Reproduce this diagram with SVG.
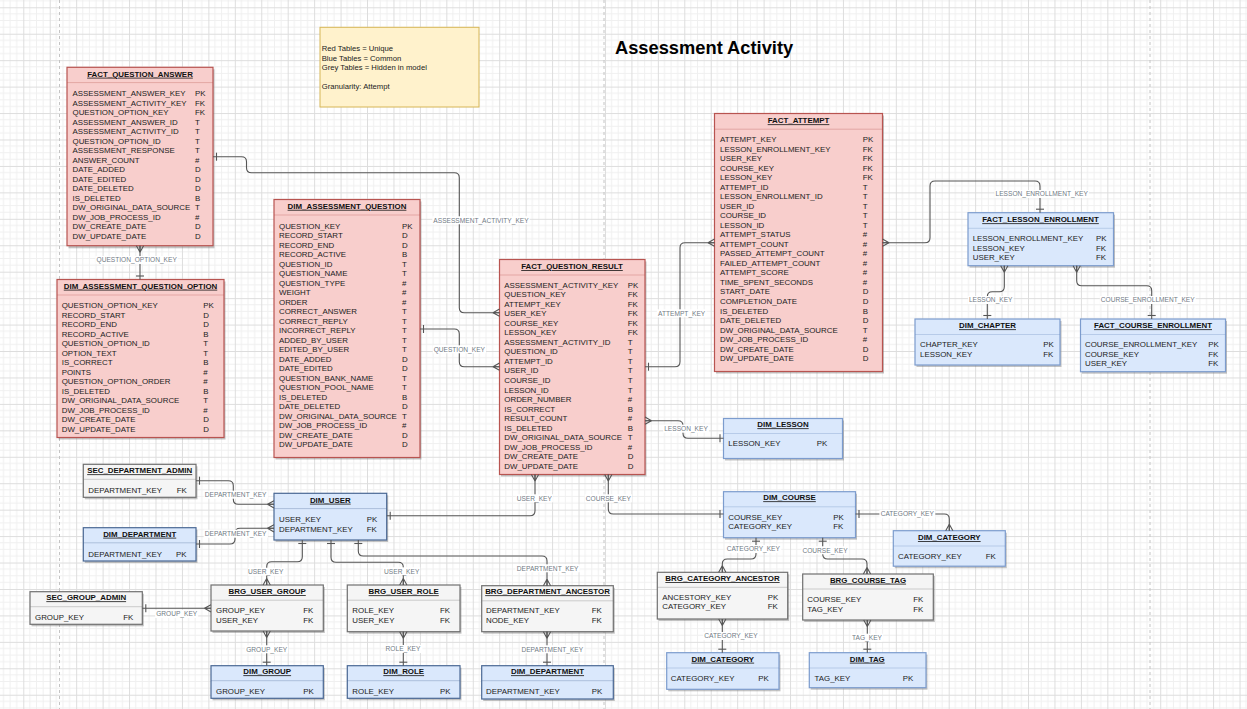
<svg xmlns="http://www.w3.org/2000/svg" width="1247" height="709" viewBox="0 0 1247 709">
<defs>
<pattern id="grid" x="23.3" y="7.3" width="26.44" height="26.44" patternUnits="userSpaceOnUse">
<path d="M6.61 0V26.44M13.22 0V26.44M19.83 0V26.44M0 6.61H26.44M0 13.22H26.44M0 19.83H26.44" stroke="#f0f0f0" stroke-width="1" fill="none"/>
<path d="M0.5 0V26.44M0 0.5H26.44" stroke="#dddddd" stroke-width="1" fill="none"/>
</pattern>
<marker id="many" markerUnits="userSpaceOnUse" orient="auto-start-reverse" refX="0" refY="0" markerWidth="14" markerHeight="14" style="overflow:visible">
<path d="M-6.5,0 L0,-3.6 M-6.5,0 L0,3.6 M-6.5,0 L0,0" fill="none" stroke="#555" stroke-width="1.1"/>
</marker>
<marker id="one" markerUnits="userSpaceOnUse" orient="auto-start-reverse" refX="0" refY="0" markerWidth="14" markerHeight="14" style="overflow:visible">
<path d="M-3.5,-4 V4" fill="none" stroke="#555" stroke-width="1.1"/>
</marker>
<style>
.sh{fill:#7a7a7a;fill-opacity:.45}
.red{fill:#f8cecc;stroke:#b85450;stroke-width:1.2}
.blu{fill:#dae8fc;stroke:#7c9cce;stroke-width:1.2}
.bld{fill:#dae8fc;stroke:#4a6894;stroke-width:1.2}
.gry{fill:#f5f5f5;stroke:#707070;stroke-width:1.2}
.sp{fill:none;stroke-width:.8;stroke-opacity:.4}
.t{font-family:"Liberation Sans",Arial,sans-serif;font-size:7.9px;font-weight:bold;text-decoration:underline;fill:#111;text-anchor:middle}
.r{font-family:"Liberation Sans",Arial,sans-serif;font-size:7.9px;fill:#222}
.l{font-family:"Liberation Sans",Arial,sans-serif;font-size:6.6px;fill:#717a84;text-anchor:middle}
.lb{fill:#ffffff}
.c path{fill:none;stroke:#555;stroke-width:1.1}
.c path.mo{marker-start:url(#many);marker-end:url(#one)}
.c path.om{marker-start:url(#one);marker-end:url(#many)}
.leg{font-family:"Liberation Sans",Arial,sans-serif;font-size:7.7px;fill:#222}
.ttl{font-family:"Liberation Sans",Arial,sans-serif;font-size:18.3px;font-weight:bold;fill:#000}
</style>
</defs>
<rect width="1247" height="709" fill="#ffffff"/>
<rect width="1247" height="709" fill="url(#grid)"/>
<g stroke="#c4c4c4" stroke-width="1" stroke-dasharray="3 3">
<path d="M59.5 0V709M604 0V709M1150 0V709"/>
</g>

<text class="ttl" x="615" y="54">Assessment Activity</text>

<g id="legend">
<rect x="320" y="27.3" width="159" height="79.7" fill="#fff2cc" stroke="#d6b656" stroke-width="1"/>
<text class="leg" x="321.7" y="51">Red Tables = Unique</text>
<text class="leg" x="321.7" y="60.6">Blue Tables = Common</text>
<text class="leg" x="321.7" y="70.2">Grey Tables = Hidden in model</text>
<text class="leg" x="321.7" y="89">Granularity: Attempt</text>
</g>

<g id="fact_question_answer">
<rect class="sh" x="68.5" y="69.3" width="146" height="179"/>
<rect class="red" x="67" y="67.3" width="146" height="178.4"/>
<path class="sp" stroke="#b85450" d="M67 82.6H213"/>
<text class="t" x="140" y="76.7">FACT_QUESTION_ANSWER</text>
<text class="r" y="96"><tspan x="72.5">ASSESSMENT_ANSWER_KEY</tspan><tspan x="72.5" dy="9.5">ASSESSMENT_ACTIVITY_KEY</tspan><tspan x="72.5" dy="9.5">QUESTION_OPTION_KEY</tspan><tspan x="72.5" dy="9.5">ASSESSMENT_ANSWER_ID</tspan><tspan x="72.5" dy="9.5">ASSESSMENT_ACTIVITY_ID</tspan><tspan x="72.5" dy="9.5">QUESTION_OPTION_ID</tspan><tspan x="72.5" dy="9.5">ASSESSMENT_RESPONSE</tspan><tspan x="72.5" dy="9.5">ANSWER_COUNT</tspan><tspan x="72.5" dy="9.5">DATE_ADDED</tspan><tspan x="72.5" dy="9.5">DATE_EDITED</tspan><tspan x="72.5" dy="9.5">DATE_DELETED</tspan><tspan x="72.5" dy="9.5">IS_DELETED</tspan><tspan x="72.5" dy="9.5">DW_ORIGINAL_DATA_SOURCE</tspan><tspan x="72.5" dy="9.5">DW_JOB_PROCESS_ID</tspan><tspan x="72.5" dy="9.5">DW_CREATE_DATE</tspan><tspan x="72.5" dy="9.5">DW_UPDATE_DATE</tspan></text>
<text class="r" y="96"><tspan x="195">PK</tspan><tspan x="195" dy="9.5">FK</tspan><tspan x="195" dy="9.5">FK</tspan><tspan x="195" dy="9.5">T</tspan><tspan x="195" dy="9.5">T</tspan><tspan x="195" dy="9.5">T</tspan><tspan x="195" dy="9.5">T</tspan><tspan x="195" dy="9.5">#</tspan><tspan x="195" dy="9.5">D</tspan><tspan x="195" dy="9.5">D</tspan><tspan x="195" dy="9.5">D</tspan><tspan x="195" dy="9.5">B</tspan><tspan x="195" dy="9.5">T</tspan><tspan x="195" dy="9.5">#</tspan><tspan x="195" dy="9.5">D</tspan><tspan x="195" dy="9.5">D</tspan></text>
</g>

<g id="dim_assessment_question_option">
<rect class="sh" x="58.5" y="281.5" width="167" height="158"/>
<rect class="red" x="57" y="279.5" width="167" height="158"/>
<path class="sp" stroke="#b85450" d="M57 295H224"/>
<text class="t" x="140.5" y="288.7">DIM_ASSESSMENT_QUESTION_OPTION</text>
<text class="r" y="308"><tspan x="61.7">QUESTION_OPTION_KEY</tspan><tspan x="61.7" dy="9.5">RECORD_START</tspan><tspan x="61.7" dy="9.5">RECORD_END</tspan><tspan x="61.7" dy="9.5">RECORD_ACTIVE</tspan><tspan x="61.7" dy="9.5">QUESTION_OPTION_ID</tspan><tspan x="61.7" dy="9.5">OPTION_TEXT</tspan><tspan x="61.7" dy="9.5">IS_CORRECT</tspan><tspan x="61.7" dy="9.5">POINTS</tspan><tspan x="61.7" dy="9.5">QUESTION_OPTION_ORDER</tspan><tspan x="61.7" dy="9.5">IS_DELETED</tspan><tspan x="61.7" dy="9.5">DW_ORIGINAL_DATA_SOURCE</tspan><tspan x="61.7" dy="9.5">DW_JOB_PROCESS_ID</tspan><tspan x="61.7" dy="9.5">DW_CREATE_DATE</tspan><tspan x="61.7" dy="9.5">DW_UPDATE_DATE</tspan></text>
<text class="r" y="308"><tspan x="203.3">PK</tspan><tspan x="203.3" dy="9.5">D</tspan><tspan x="203.3" dy="9.5">D</tspan><tspan x="203.3" dy="9.5">B</tspan><tspan x="203.3" dy="9.5">T</tspan><tspan x="203.3" dy="9.5">T</tspan><tspan x="203.3" dy="9.5">B</tspan><tspan x="203.3" dy="9.5">#</tspan><tspan x="203.3" dy="9.5">#</tspan><tspan x="203.3" dy="9.5">B</tspan><tspan x="203.3" dy="9.5">T</tspan><tspan x="203.3" dy="9.5">#</tspan><tspan x="203.3" dy="9.5">D</tspan><tspan x="203.3" dy="9.5">D</tspan></text>
</g>

<g id="dim_assessment_question">
<rect class="sh" x="275.5" y="201.5" width="146" height="258"/>
<rect class="red" x="274" y="199.5" width="146" height="258"/>
<path class="sp" stroke="#b85450" d="M274 215H420"/>
<text class="t" x="347" y="208.8">DIM_ASSESSMENT_QUESTION</text>
<text class="r" y="228.5"><tspan x="279">QUESTION_KEY</tspan><tspan x="279" dy="9.52">RECORD_START</tspan><tspan x="279" dy="9.52">RECORD_END</tspan><tspan x="279" dy="9.52">RECORD_ACTIVE</tspan><tspan x="279" dy="9.52">QUESTION_ID</tspan><tspan x="279" dy="9.52">QUESTION_NAME</tspan><tspan x="279" dy="9.52">QUESTION_TYPE</tspan><tspan x="279" dy="9.52">WEIGHT</tspan><tspan x="279" dy="9.52">ORDER</tspan><tspan x="279" dy="9.52">CORRECT_ANSWER</tspan><tspan x="279" dy="9.52">CORRECT_REPLY</tspan><tspan x="279" dy="9.52">INCORRECT_REPLY</tspan><tspan x="279" dy="9.52">ADDED_BY_USER</tspan><tspan x="279" dy="9.52">EDITED_BY_USER</tspan><tspan x="279" dy="9.52">DATE_ADDED</tspan><tspan x="279" dy="9.52">DATE_EDITED</tspan><tspan x="279" dy="9.52">QUESTION_BANK_NAME</tspan><tspan x="279" dy="9.52">QUESTION_POOL_NAME</tspan><tspan x="279" dy="9.52">IS_DELETED</tspan><tspan x="279" dy="9.52">DATE_DELETED</tspan><tspan x="279" dy="9.52">DW_ORIGINAL_DATA_SOURCE</tspan><tspan x="279" dy="9.52">DW_JOB_PROCESS_ID</tspan><tspan x="279" dy="9.52">DW_CREATE_DATE</tspan><tspan x="279" dy="9.52">DW_UPDATE_DATE</tspan></text>
<text class="r" y="228.5"><tspan x="402">PK</tspan><tspan x="402" dy="9.52">D</tspan><tspan x="402" dy="9.52">D</tspan><tspan x="402" dy="9.52">B</tspan><tspan x="402" dy="9.52">T</tspan><tspan x="402" dy="9.52">T</tspan><tspan x="402" dy="9.52">#</tspan><tspan x="402" dy="9.52">#</tspan><tspan x="402" dy="9.52">#</tspan><tspan x="402" dy="9.52">T</tspan><tspan x="402" dy="9.52">T</tspan><tspan x="402" dy="9.52">T</tspan><tspan x="402" dy="9.52">T</tspan><tspan x="402" dy="9.52">T</tspan><tspan x="402" dy="9.52">D</tspan><tspan x="402" dy="9.52">D</tspan><tspan x="402" dy="9.52">T</tspan><tspan x="402" dy="9.52">T</tspan><tspan x="402" dy="9.52">B</tspan><tspan x="402" dy="9.52">D</tspan><tspan x="402" dy="9.52">T</tspan><tspan x="402" dy="9.52">#</tspan><tspan x="402" dy="9.52">D</tspan><tspan x="402" dy="9.52">D</tspan></text>
</g>

<g id="fact_question_result">
<rect class="sh" x="501" y="261.5" width="145.5" height="215"/>
<rect class="red" x="499.5" y="259.5" width="145.5" height="215"/>
<path class="sp" stroke="#b85450" d="M499.5 275H645"/>
<text class="t" x="572" y="269">FACT_QUESTION_RESULT</text>
<text class="r" y="287.5"><tspan x="504.3">ASSESSMENT_ACTIVITY_KEY</tspan><tspan x="504.3" dy="9.55">QUESTION_KEY</tspan><tspan x="504.3" dy="9.55">ATTEMPT_KEY</tspan><tspan x="504.3" dy="9.55">USER_KEY</tspan><tspan x="504.3" dy="9.55">COURSE_KEY</tspan><tspan x="504.3" dy="9.55">LESSON_KEY</tspan><tspan x="504.3" dy="9.55">ASSESSMENT_ACTIVITY_ID</tspan><tspan x="504.3" dy="9.55">QUESTION_ID</tspan><tspan x="504.3" dy="9.55">ATTEMPT_ID</tspan><tspan x="504.3" dy="9.55">USER_ID</tspan><tspan x="504.3" dy="9.55">COURSE_ID</tspan><tspan x="504.3" dy="9.55">LESSON_ID</tspan><tspan x="504.3" dy="9.55">ORDER_NUMBER</tspan><tspan x="504.3" dy="9.55">IS_CORRECT</tspan><tspan x="504.3" dy="9.55">RESULT_COUNT</tspan><tspan x="504.3" dy="9.55">IS_DELETED</tspan><tspan x="504.3" dy="9.55">DW_ORIGINAL_DATA_SOURCE</tspan><tspan x="504.3" dy="9.55">DW_JOB_PROCESS_ID</tspan><tspan x="504.3" dy="9.55">DW_CREATE_DATE</tspan><tspan x="504.3" dy="9.55">DW_UPDATE_DATE</tspan></text>
<text class="r" y="287.5"><tspan x="627.7">PK</tspan><tspan x="627.7" dy="9.55">FK</tspan><tspan x="627.7" dy="9.55">FK</tspan><tspan x="627.7" dy="9.55">FK</tspan><tspan x="627.7" dy="9.55">FK</tspan><tspan x="627.7" dy="9.55">FK</tspan><tspan x="627.7" dy="9.55">T</tspan><tspan x="627.7" dy="9.55">T</tspan><tspan x="627.7" dy="9.55">T</tspan><tspan x="627.7" dy="9.55">T</tspan><tspan x="627.7" dy="9.55">T</tspan><tspan x="627.7" dy="9.55">T</tspan><tspan x="627.7" dy="9.55">#</tspan><tspan x="627.7" dy="9.55">B</tspan><tspan x="627.7" dy="9.55">#</tspan><tspan x="627.7" dy="9.55">B</tspan><tspan x="627.7" dy="9.55">T</tspan><tspan x="627.7" dy="9.55">#</tspan><tspan x="627.7" dy="9.55">D</tspan><tspan x="627.7" dy="9.55">D</tspan></text>
</g>

<g id="fact_attempt">
<rect class="sh" x="716" y="115.5" width="168" height="258"/>
<rect class="red" x="714.5" y="113.5" width="168" height="258"/>
<path class="sp" stroke="#b85450" d="M714.5 129.2H882.5"/>
<text class="t" x="798.5" y="123.3">FACT_ATTEMPT</text>
<text class="r" y="142"><tspan x="720">ATTEMPT_KEY</tspan><tspan x="720" dy="9.53">LESSON_ENROLLMENT_KEY</tspan><tspan x="720" dy="9.53">USER_KEY</tspan><tspan x="720" dy="9.53">COURSE_KEY</tspan><tspan x="720" dy="9.53">LESSON_KEY</tspan><tspan x="720" dy="9.53">ATTEMPT_ID</tspan><tspan x="720" dy="9.53">LESSON_ENROLLMENT_ID</tspan><tspan x="720" dy="9.53">USER_ID</tspan><tspan x="720" dy="9.53">COURSE_ID</tspan><tspan x="720" dy="9.53">LESSON_ID</tspan><tspan x="720" dy="9.53">ATTEMPT_STATUS</tspan><tspan x="720" dy="9.53">ATTEMPT_COUNT</tspan><tspan x="720" dy="9.53">PASSED_ATTEMPT_COUNT</tspan><tspan x="720" dy="9.53">FAILED_ATTEMPT_COUNT</tspan><tspan x="720" dy="9.53">ATTEMPT_SCORE</tspan><tspan x="720" dy="9.53">TIME_SPENT_SECONDS</tspan><tspan x="720" dy="9.53">START_DATE</tspan><tspan x="720" dy="9.53">COMPLETION_DATE</tspan><tspan x="720" dy="9.53">IS_DELETED</tspan><tspan x="720" dy="9.53">DATE_DELETED</tspan><tspan x="720" dy="9.53">DW_ORIGINAL_DATA_SOURCE</tspan><tspan x="720" dy="9.53">DW_JOB_PROCESS_ID</tspan><tspan x="720" dy="9.53">DW_CREATE_DATE</tspan><tspan x="720" dy="9.53">DW_UPDATE_DATE</tspan></text>
<text class="r" y="142"><tspan x="862.7">PK</tspan><tspan x="862.7" dy="9.53">FK</tspan><tspan x="862.7" dy="9.53">FK</tspan><tspan x="862.7" dy="9.53">FK</tspan><tspan x="862.7" dy="9.53">FK</tspan><tspan x="862.7" dy="9.53">T</tspan><tspan x="862.7" dy="9.53">T</tspan><tspan x="862.7" dy="9.53">T</tspan><tspan x="862.7" dy="9.53">T</tspan><tspan x="862.7" dy="9.53">T</tspan><tspan x="862.7" dy="9.53">#</tspan><tspan x="862.7" dy="9.53">#</tspan><tspan x="862.7" dy="9.53">#</tspan><tspan x="862.7" dy="9.53">#</tspan><tspan x="862.7" dy="9.53">#</tspan><tspan x="862.7" dy="9.53">#</tspan><tspan x="862.7" dy="9.53">D</tspan><tspan x="862.7" dy="9.53">D</tspan><tspan x="862.7" dy="9.53">B</tspan><tspan x="862.7" dy="9.53">D</tspan><tspan x="862.7" dy="9.53">T</tspan><tspan x="862.7" dy="9.53">#</tspan><tspan x="862.7" dy="9.53">D</tspan><tspan x="862.7" dy="9.53">D</tspan></text>
</g>

<g id="fact_lesson_enrollment">
<rect class="sh" x="969.5" y="214.7" width="145.5" height="53"/>
<rect class="blu" x="968" y="212.7" width="145.5" height="53"/>
<path class="sp" stroke="#6c8ebf" d="M968 228.3H1113.5"/>
<text class="t" x="1040.5" y="222.3">FACT_LESSON_ENROLLMENT</text>
<text class="r" y="241.3"><tspan x="972.7">LESSON_ENROLLMENT_KEY</tspan><tspan x="972.7" dy="9.5">LESSON_KEY</tspan><tspan x="972.7" dy="9.5">USER_KEY</tspan></text>
<text class="r" y="241.3"><tspan x="1096">PK</tspan><tspan x="1096" dy="9.5">FK</tspan><tspan x="1096" dy="9.5">FK</tspan></text>
</g>

<g id="dim_chapter">
<rect class="sh" x="916.5" y="321" width="145" height="46"/>
<rect class="blu" x="915" y="319" width="145" height="46"/>
<path class="sp" stroke="#6c8ebf" d="M915 334.5H1060"/>
<text class="t" x="987.5" y="328.3">DIM_CHAPTER</text>
<text class="r" y="347.3"><tspan x="920">CHAPTER_KEY</tspan><tspan x="920" dy="9.5">LESSON_KEY</tspan></text>
<text class="r" y="347.3"><tspan x="1043.3">PK</tspan><tspan x="1043.3" dy="9.5">FK</tspan></text>
</g>

<g id="fact_course_enrollment">
<rect class="sh" x="1082" y="321" width="145" height="52.7"/>
<rect class="blu" x="1080.5" y="319" width="145" height="52.7"/>
<path class="sp" stroke="#6c8ebf" d="M1080.5 334.5H1225.5"/>
<text class="t" x="1153" y="328.3">FACT_COURSE_ENROLLMENT</text>
<text class="r" y="347.3"><tspan x="1085">COURSE_ENROLLMENT_KEY</tspan><tspan x="1085" dy="9.5">COURSE_KEY</tspan><tspan x="1085" dy="9.5">USER_KEY</tspan></text>
<text class="r" y="347.3"><tspan x="1208.3">PK</tspan><tspan x="1208.3" dy="9.5">FK</tspan><tspan x="1208.3" dy="9.5">FK</tspan></text>
</g>

<g id="dim_lesson">
<rect class="sh" x="725" y="420.5" width="119" height="40"/>
<rect class="blu" x="723.5" y="418.5" width="119" height="40"/>
<path class="sp" stroke="#6c8ebf" d="M723.5 433.5H842.5"/>
<text class="t" x="783" y="427.3">DIM_LESSON</text>
<text class="r" x="728.3" y="446.3">LESSON_KEY</text>
<text class="r" x="816.7" y="446.3">PK</text>
</g>

<g id="dim_course">
<rect class="sh" x="725" y="493.7" width="132" height="46"/>
<rect class="blu" x="723.5" y="491.7" width="132" height="46"/>
<path class="sp" stroke="#6c8ebf" d="M723.5 506.8H855.5"/>
<text class="t" x="789.5" y="500.3">DIM_COURSE</text>
<text class="r" y="519.7"><tspan x="728.3">COURSE_KEY</tspan><tspan x="728.3" dy="9.5">CATEGORY_KEY</tspan></text>
<text class="r" y="519.7"><tspan x="833.3">PK</tspan><tspan x="833.3" dy="9.5">FK</tspan></text>
</g>

<g id="dim_category_right">
<rect class="sh" x="894.8" y="532.7" width="112" height="35.5"/>
<rect class="blu" x="893.3" y="530.7" width="112" height="35.5"/>
<path class="sp" stroke="#6c8ebf" d="M893.3 546H1005.3"/>
<text class="t" x="949.3" y="540">DIM_CATEGORY</text>
<text class="r" x="898" y="559.3">CATEGORY_KEY</text>
<text class="r" x="985.7" y="559.3">FK</text>
</g>

<g id="brg_category_ancestor">
<rect class="sh" x="658.8" y="574.3" width="130.4" height="46.7"/>
<rect class="gry" x="657.3" y="572.3" width="130.4" height="46.7"/>
<path class="sp" stroke="#707070" d="M657.3 587.3H787.7"/>
<text class="t" x="722.5" y="581">BRG_CATEGORY_ANCESTOR</text>
<text class="r" y="599.7"><tspan x="662.3">ANCESTORY_KEY</tspan><tspan x="662.3" dy="9.5">CATEGORY_KEY</tspan></text>
<text class="r" y="599.7"><tspan x="767.7">PK</tspan><tspan x="767.7" dy="9.5">FK</tspan></text>
</g>

<g id="brg_course_tag">
<rect class="sh" x="804.2" y="576" width="130.6" height="46"/>
<rect class="gry" x="802.7" y="574" width="130.6" height="46"/>
<path class="sp" stroke="#707070" d="M802.7 589H933.3"/>
<text class="t" x="868" y="582.7">BRG_COURSE_TAG</text>
<text class="r" y="602.3"><tspan x="807.3">COURSE_KEY</tspan><tspan x="807.3" dy="9.5">TAG_KEY</tspan></text>
<text class="r" y="602.3"><tspan x="913.3">FK</tspan><tspan x="913.3" dy="9.5">FK</tspan></text>
</g>

<g id="dim_category_bottom">
<rect class="sh" x="668.2" y="654.7" width="112.3" height="36.6"/>
<rect class="blu" x="666.7" y="652.7" width="112.3" height="36.6"/>
<path class="sp" stroke="#6c8ebf" d="M666.7 668H779"/>
<text class="t" x="722.8" y="661.7">DIM_CATEGORY</text>
<text class="r" x="670.7" y="681.3">CATEGORY_KEY</text>
<text class="r" x="758.3" y="681.3">PK</text>
</g>

<g id="dim_tag">
<rect class="sh" x="810.8" y="654.7" width="116.7" height="35"/>
<rect class="blu" x="809.3" y="652.7" width="116.7" height="35"/>
<path class="sp" stroke="#6c8ebf" d="M809.3 668H926"/>
<text class="t" x="867.3" y="661.7">DIM_TAG</text>
<text class="r" x="814.5" y="681.3">TAG_KEY</text>
<text class="r" x="902.7" y="681.3">PK</text>
</g>

<g id="dim_user">
<rect class="sh" x="275.5" y="495.3" width="112.7" height="46.7"/>
<rect class="bld" x="274" y="493.3" width="112.7" height="46.7"/>
<path class="sp" stroke="#4a6894" d="M274 508.6H386.7"/>
<text class="t" x="330.3" y="502.7">DIM_USER</text>
<text class="r" y="522.3"><tspan x="279">USER_KEY</tspan><tspan x="279" dy="9.5">DEPARTMENT_KEY</tspan></text>
<text class="r" y="522.3"><tspan x="366.7">PK</tspan><tspan x="366.7" dy="9.5">FK</tspan></text>
</g>

<g id="sec_department_admin">
<rect class="sh" x="84.8" y="466.3" width="112.7" height="33"/>
<rect class="gry" x="83.3" y="464.3" width="112.7" height="33"/>
<path class="sp" stroke="#707070" d="M83.3 479.3H196"/>
<text class="t" x="139.7" y="473.3">SEC_DEPARTMENT_ADMIN</text>
<text class="r" x="88.3" y="493">DEPARTMENT_KEY</text>
<text class="r" x="176.7" y="493">FK</text>
</g>

<g id="dim_department_left">
<rect class="sh" x="84.8" y="529.7" width="112.7" height="33.3"/>
<rect class="bld" x="83.3" y="527.7" width="112.7" height="33.3"/>
<path class="sp" stroke="#4a6894" d="M83.3 542.8H196"/>
<text class="t" x="139.7" y="536.7">DIM_DEPARTMENT</text>
<text class="r" x="88.3" y="556.7">DEPARTMENT_KEY</text>
<text class="r" x="176" y="556.7">PK</text>
</g>

<g id="sec_group_admin">
<rect class="sh" x="31.5" y="593.7" width="112.3" height="32.6"/>
<rect class="gry" x="30" y="591.7" width="112.3" height="32.6"/>
<path class="sp" stroke="#707070" d="M30 606.7H142.3"/>
<text class="t" x="86.2" y="600.3">SEC_GROUP_ADMIN</text>
<text class="r" x="35" y="619.7">GROUP_KEY</text>
<text class="r" x="123.3" y="619.7">FK</text>
</g>

<g id="brg_user_group">
<rect class="sh" x="212.5" y="587" width="112.3" height="46"/>
<rect class="gry" x="211" y="585" width="112.3" height="46"/>
<path class="sp" stroke="#707070" d="M211 600.2H323.3"/>
<text class="t" x="267.2" y="594">BRG_USER_GROUP</text>
<text class="r" y="613"><tspan x="216">GROUP_KEY</tspan><tspan x="216" dy="9.5">USER_KEY</tspan></text>
<text class="r" y="613"><tspan x="303.3">FK</tspan><tspan x="303.3" dy="9.5">FK</tspan></text>
</g>

<g id="dim_group">
<rect class="sh" x="212.5" y="667.7" width="112.3" height="32.6"/>
<rect class="bld" x="211" y="665.7" width="112.3" height="32.6"/>
<path class="sp" stroke="#4a6894" d="M211 680.7H323.3"/>
<text class="t" x="267.2" y="674.3">DIM_GROUP</text>
<text class="r" x="216" y="693.7">GROUP_KEY</text>
<text class="r" x="303.3" y="693.7">PK</text>
</g>

<g id="brg_user_role">
<rect class="sh" x="348.8" y="587" width="112.7" height="46.7"/>
<rect class="gry" x="347.3" y="585" width="112.7" height="46.7"/>
<path class="sp" stroke="#707070" d="M347.3 600.2H460"/>
<text class="t" x="403.7" y="594.3">BRG_USER_ROLE</text>
<text class="r" y="613"><tspan x="352.3">ROLE_KEY</tspan><tspan x="352.3" dy="9.5">USER_KEY</tspan></text>
<text class="r" y="613"><tspan x="440">FK</tspan><tspan x="440" dy="9.5">FK</tspan></text>
</g>

<g id="dim_role">
<rect class="sh" x="348.8" y="667.7" width="112.7" height="32.6"/>
<rect class="bld" x="347.3" y="665.7" width="112.7" height="32.6"/>
<path class="sp" stroke="#4a6894" d="M347.3 680.7H460"/>
<text class="t" x="403.7" y="674.3">DIM_ROLE</text>
<text class="r" x="352.3" y="693.7">ROLE_KEY</text>
<text class="r" x="440" y="693.7">PK</text>
</g>

<g id="brg_department_ancestor">
<rect class="sh" x="483.2" y="587.7" width="131.6" height="46"/>
<rect class="gry" x="481.7" y="585.7" width="131.6" height="46"/>
<path class="sp" stroke="#707070" d="M481.7 600.8H613.3"/>
<text class="t" x="547.5" y="594.3">BRG_DEPARTMENT_ANCESTOR</text>
<text class="r" y="613"><tspan x="486">DEPARTMENT_KEY</tspan><tspan x="486" dy="9.5">NODE_KEY</tspan></text>
<text class="r" y="613"><tspan x="591.7">FK</tspan><tspan x="591.7" dy="9.5">FK</tspan></text>
</g>

<g id="dim_department_bottom">
<rect class="sh" x="483.2" y="667.7" width="131.6" height="33.3"/>
<rect class="bld" x="481.7" y="665.7" width="131.6" height="33.3"/>
<path class="sp" stroke="#4a6894" d="M481.7 680.7H613.3"/>
<text class="t" x="547.5" y="674.3">DIM_DEPARTMENT</text>
<text class="r" x="486" y="693.7">DEPARTMENT_KEY</text>
<text class="r" x="591.7" y="693.7">PK</text>
</g>

<g id="connectors" class="c">
<path class="mo" d="M140,245.7 V279.5"/>
<path class="om" d="M213,156.7 H241.5 Q246.5,156.7 246.5,161.7 V167.7 Q246.5,172.7 251.5,172.7 H454.3 Q459.3,172.7 459.3,177.7 V307.7 Q459.3,312.7 464.3,312.7 H499.5"/>
<path class="om" d="M420,329 H454.3 Q459.3,329 459.3,334 V361.7 Q459.3,366.7 464.3,366.7 H499.5"/>
<path class="mo" d="M714.5,242.7 H685 Q680,242.7 680,247.7 V361.7 Q680,366.7 675,366.7 H645"/>
<path class="mo" d="M882.5,242.7 H925 Q930,242.7 930,237.7 V186 Q930,181 935,181 H1035 Q1040,181 1040,186 V212.7"/>
<path class="mo" d="M1004.3,265.7 V286.7 Q1004.3,291.7 999.3,291.7 H992.3 Q987.3,291.7 987.3,296.7 V319"/>
<path class="mo" d="M1076.7,265.7 V280.7 Q1076.7,285.7 1081.7,285.7 H1146.7 Q1151.7,285.7 1151.7,290.7 V319"/>
<path class="mo" d="M645,420.7 H678 Q683,420.7 683,425.7 V433.3 Q683,438.3 688,438.3 H723.5"/>
<path class="mo" d="M535,474.5 V510.7 Q535,515.7 530,515.7 H386.7"/>
<path class="mo" d="M608.3,474.5 V509 Q608.3,514 613.3,514 H723.5"/>
<path class="mo" d="M949.3,530.7 V519 Q949.3,514 944.3,514 H855.5"/>
<path class="om" d="M756,537.7 V554 Q756,559 751,559 H727.3 Q722.3,559 722.3,564 V572.3"/>
<path class="om" d="M822.7,537.7 V554 Q822.7,559 827.7,559 H862 Q867,559 867,564 V574"/>
<path class="mo" d="M722.3,619 V652.7"/>
<path class="mo" d="M867.3,620 V652.7"/>
<path class="om" d="M196,480.7 H228.3 Q233.3,480.7 233.3,485.7 V499.3 Q233.3,504.3 238.3,504.3 H274"/>
<path class="mo" d="M274,528.3 H240 Q235,528.3 235,533.3 V539 Q235,544 230,544 H196"/>
<path class="om" d="M302.3,540 V556.7 Q302.3,561.7 297.3,561.7 H271.7 Q266.7,561.7 266.7,566.7 V585"/>
<path class="om" d="M331,540 V557.3 Q331,562.3 336,562.3 H398.3 Q403.3,562.3 403.3,567.3 V585"/>
<path class="om" d="M358.3,540 V551 Q358.3,556 363.3,556 H542 Q547,556 547,561 V585.7"/>
<path class="mo" d="M211,608.3 H142.3"/>
<path class="mo" d="M266.7,631 V665.7"/>
<path class="mo" d="M403.3,631.7 V665.7"/>
<path class="mo" d="M547,631.7 V665.7"/>

<rect class="lb" x="95.5" y="256" width="82.3" height="8"/>
<text class="l" x="136.7" y="262.4">QUESTION_OPTION_KEY</text>
<rect class="lb" x="432.3" y="216.3" width="97.4" height="8"/>
<text class="l" x="481" y="222.7">ASSESSMENT_ACTIVITY_KEY</text>
<rect class="lb" x="432.7" y="345.3" width="53.3" height="8"/>
<text class="l" x="459.3" y="351.7">QUESTION_KEY</text>
<rect class="lb" x="656.9" y="309.3" width="49.7" height="8"/>
<text class="l" x="681.7" y="315.7">ATTEMPT_KEY</text>
<rect class="lb" x="994.5" y="190" width="94.4" height="8"/>
<text class="l" x="1041.7" y="196.4">LESSON_ENROLLMENT_KEY</text>
<rect class="lb" x="967.9" y="296" width="45.7" height="8"/>
<text class="l" x="990.7" y="302.4">LESSON_KEY</text>
<rect class="lb" x="1099.8" y="296" width="95.9" height="8"/>
<text class="l" x="1147.7" y="302.4">COURSE_ENROLLMENT_KEY</text>
<rect class="lb" x="663.2" y="424.7" width="45.7" height="8"/>
<text class="l" x="686" y="431.1">LESSON_KEY</text>
<rect class="lb" x="515.7" y="494.3" width="37.2" height="8"/>
<text class="l" x="534.3" y="500.7">USER_KEY</text>
<rect class="lb" x="584.8" y="494.3" width="47.1" height="8"/>
<text class="l" x="608.3" y="500.7">COURSE_KEY</text>
<rect class="lb" x="879.4" y="510" width="55.9" height="8"/>
<text class="l" x="907.3" y="516.4">CATEGORY_KEY</text>
<rect class="lb" x="725.4" y="545" width="55.9" height="8"/>
<text class="l" x="753.3" y="551.4">CATEGORY_KEY</text>
<rect class="lb" x="801.5" y="546.3" width="47.1" height="8"/>
<text class="l" x="825" y="552.7">COURSE_KEY</text>
<rect class="lb" x="703.1" y="632" width="55.9" height="8"/>
<text class="l" x="731" y="638.4">CATEGORY_KEY</text>
<rect class="lb" x="850.8" y="633.7" width="32.4" height="8"/>
<text class="l" x="867" y="640.1">TAG_KEY</text>
<rect class="lb" x="203.6" y="490.7" width="64.3" height="8"/>
<text class="l" x="235.7" y="497.1">DEPARTMENT_KEY</text>
<rect class="lb" x="203.6" y="529.7" width="64.3" height="8"/>
<text class="l" x="235.7" y="536.1">DEPARTMENT_KEY</text>
<rect class="lb" x="248.1" y="567.7" width="37.2" height="8"/>
<text class="l" x="265.7" y="574.1">USER_KEY</text>
<rect class="lb" x="383.1" y="567.3" width="37.2" height="8"/>
<text class="l" x="401.7" y="573.7">USER_KEY</text>
<rect class="lb" x="515.5" y="564.3" width="64.3" height="8"/>
<text class="l" x="547.7" y="570.7">DEPARTMENT_KEY</text>
<rect class="lb" x="155.1" y="610" width="43.1" height="8"/>
<text class="l" x="176.7" y="616.4">GROUP_KEY</text>
<rect class="lb" x="245.1" y="645.3" width="43.1" height="8"/>
<text class="l" x="266.7" y="651.7">GROUP_KEY</text>
<rect class="lb" x="385.6" y="645" width="36.8" height="8"/>
<text class="l" x="403" y="651.4">ROLE_KEY</text>
<rect class="lb" x="520.1" y="645.3" width="64.3" height="8"/>
<text class="l" x="552.3" y="651.7">DEPARTMENT_KEY</text>
</g>
</svg>
